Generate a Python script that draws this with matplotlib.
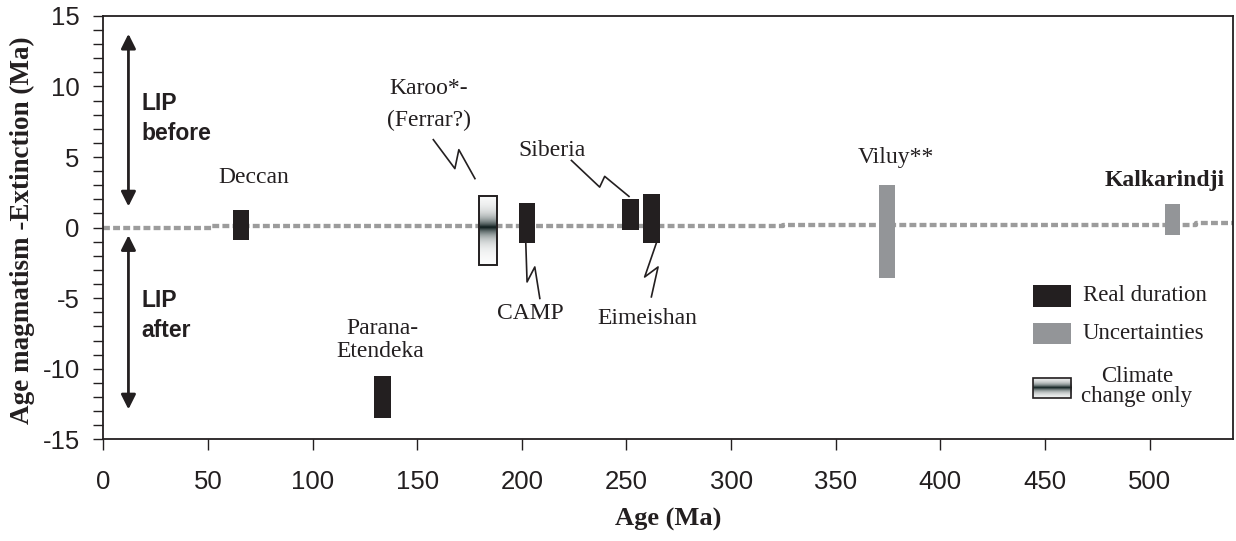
import numpy as np
import matplotlib
matplotlib.use('Agg')
import matplotlib.pyplot as plt
from matplotlib.colors import LinearSegmentedColormap
from matplotlib.ticker import MultipleLocator

plt.rcParams['axes.unicode_minus'] = False

DARK = '#231f20'
GREY = '#939598'
DASH = '#9c9c9c'

# LIPs with real duration (age range in Ma, offset range in Ma)
real_names = ['Deccan', 'Parana-Etendeka', 'CAMP', 'Siberia', 'Eimeishan']
real_age_min = [62.2, 129.5, 198.5, 248.0, 258.0]
real_age_max = [69.8, 137.5, 206.2, 256.0, 266.0]
real_lo = [-0.9, -13.5, -1.1, -0.2, -1.1]
real_hi = [1.25, -10.5, 1.75, 2.0, 2.4]

# LIPs with uncertainties only
unc_names = ['Viluy**', 'Kalkarindji']
unc_age_min = [370.5, 507.2]
unc_age_max = [378.2, 514.6]
unc_lo = [-3.55, -0.5]
unc_hi = [3.0, 1.65]

# Karoo-Ferrar, climate change only
clim_age_min = [179.5]
clim_age_max = [188.0]
clim_lo = [-2.65]
clim_hi = [2.25]

# zero line (slightly stepped in the original)
base_age = [0, 52, 325, 522, 540]
base_off = [0.0, 0.08, 0.18, 0.3, 0.3]

# label text, position
labels = [
    ('Deccan', 72.1, 3.58, 'normal'),
    ('Parana-', 133.6, -7.14, 'normal'),
    ('Etendeka', 132.2, -8.8, 'normal'),
    ('Karoo*-', 155.6, 9.84, 'normal'),
    ('(Ferrar?)', 155.6, 7.59, 'normal'),
    ('CAMP', 204.2, -6.09, 'normal'),
    ('Siberia', 214.2, 5.47, 'normal'),
    ('Eimeishan', 259.8, -6.44, 'normal'),
    ('Viluy**', 378.8, 5.0, 'normal'),
    ('Kalkarindji', 507.0, 3.35, 'bold'),
]

# leader squiggles
leaders = [
    ([157.7, 168.0, 169.9, 177.6], [6.23, 4.18, 5.52, 3.47]),
    ([223.7, 237.2, 239.6, 251.2], [4.76, 2.87, 3.63, 2.21]),
    ([201.9, 202.5, 206.2, 208.6], [-1.13, -3.85, -2.79, -5.02]),
    ([264.3, 258.7, 265.1, 261.9], [-1.09, -3.5, -2.79, -4.91]),
]

serif = 'Liberation Serif'
sans = 'Liberation Sans'

fig = plt.figure(figsize=(12.36, 5.41), dpi=100)
ax = fig.add_axes([0.0836, 0.188, 0.9142, 0.7826])

ax.set_xlim(0, 540)
ax.set_ylim(-15, 15)

# dashed zero line
ax.plot(base_age, base_off, drawstyle='steps-post', color=DASH, lw=3.1,
        dashes=(1.6, 0.75), zorder=1, solid_capstyle='butt')

def bars(amin, amax, lo, hi, **kw):
    amin, amax = np.array(amin), np.array(amax)
    lo, hi = np.array(lo), np.array(hi)
    return ax.bar((amin + amax) / 2, hi - lo, width=amax - amin, bottom=lo, **kw)

bars(real_age_min, real_age_max, real_lo, real_hi, color=DARK, zorder=3)
bars(unc_age_min, unc_age_max, unc_lo, unc_hi, color=GREY, zorder=3)

# gradient bar
cmap = LinearSegmentedColormap.from_list('clim', ['#0a1a1a', '#7f8a8a', 'white'])
def grad_img(lo, hi, scale):
    yy = np.linspace(hi, lo, 300)
    g = 1 - np.exp(-np.abs(yy) / scale)
    return g[:, None]

for a0, a1, lo, hi in zip(clim_age_min, clim_age_max, clim_lo, clim_hi):
    ax.imshow(grad_img(lo, hi, 0.6), cmap=cmap, vmin=0, vmax=1, aspect='auto',
              extent=(a0, a1, lo, hi), zorder=3, interpolation='bilinear')
bars(clim_age_min, clim_age_max, clim_lo, clim_hi, fill=False,
     edgecolor=DARK, lw=1.4, zorder=4)

# labels and leader lines
for txt, x, y, w in labels:
    ax.text(x, y, txt, ha='center', va='center', fontsize=17,
            family=serif, fontweight=w, color=DARK)
for xs, ys in leaders:
    ax.plot(xs, ys, color=DARK, lw=1.2, zorder=2)

# LIP before / after arrows
arrow = dict(arrowstyle='<|-|>', lw=2, color=DARK, mutation_scale=22,
             shrinkA=0, shrinkB=0)
ax.annotate('', xy=(12, 13.73), xytext=(12, 1.5), arrowprops=arrow)
ax.annotate('', xy=(12, -12.88), xytext=(12, -0.54), arrowprops=arrow)
for txt, y in [('LIP', 8.77), ('before', 6.7), ('LIP', -5.15), ('after', -7.27)]:
    ax.text(18.2, y, txt, ha='left', va='center', fontsize=16.5,
            family=sans, fontweight='bold', color=DARK)

# legend drawn by hand
lx0, lx1 = 444.1, 462.4
ax.bar((lx0 + lx1) / 2, 1.54, width=lx1 - lx0, bottom=-5.62, color=DARK)
ax.bar((lx0 + lx1) / 2, 1.49, width=lx1 - lx0, bottom=-8.28, color=GREY)
ax.imshow(grad_img(-12.1 + 11.37, -10.64 + 11.37, 0.25), cmap=cmap, vmin=0, vmax=1,
          aspect='auto', extent=(lx0, lx1, -12.1, -10.64), zorder=3,
          interpolation='bilinear')
ax.bar((lx0 + lx1) / 2, 1.46, width=lx1 - lx0, bottom=-12.1, fill=False,
       edgecolor=DARK, lw=1.2, zorder=4)
ax.text(468, -4.84, 'Real duration', ha='left', va='center', fontsize=16.5,
        family=serif, color=DARK)
ax.text(468, -7.5, 'Uncertainties', ha='left', va='center', fontsize=16.5,
        family=serif, color=DARK)
ax.text(494, -10.57, 'Climate', ha='center', va='center', fontsize=16.5,
        family=serif, color=DARK)
ax.text(494, -11.99, 'change only', ha='center', va='center', fontsize=16.5,
        family=serif, color=DARK)

# axes styling
ax.xaxis.set_major_locator(MultipleLocator(50))
ax.yaxis.set_major_locator(MultipleLocator(5))
ax.yaxis.set_minor_locator(MultipleLocator(1))
ax.tick_params(axis='x', which='major', direction='out', length=8, width=1,
               pad=14, labelsize=18.5, colors=DARK)
ax.tick_params(axis='y', which='major', direction='out', length=7, width=1,
               pad=10, labelsize=18.5, colors=DARK)
ax.tick_params(axis='y', which='minor', direction='out', length=7, width=1,
               colors=DARK)
for lab in ax.get_xticklabels() + ax.get_yticklabels():
    lab.set_family(sans)
for s in ax.spines.values():
    s.set_linewidth(1.3)
    s.set_color(DARK)

ax.set_xlabel('Age (Ma)', fontsize=19, family=serif, fontweight='bold',
              color=DARK, va='center')
ax.xaxis.set_label_coords(0.5, -0.19)
fig.text(22 / 1236, 0.575, 'Age magmatism -Extinction (Ma)', rotation=90,
         ha='center', va='center', fontsize=19.5, family=serif,
         fontweight='bold', color=DARK)

fig.savefig('out.png', dpi=100)
